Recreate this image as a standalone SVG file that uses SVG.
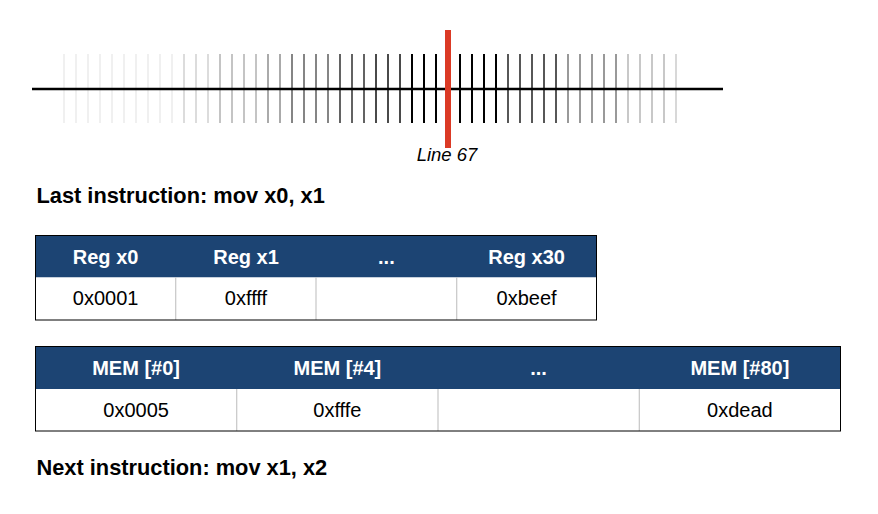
<svg xmlns="http://www.w3.org/2000/svg" width="878" height="514" viewBox="0 0 878 514">
<style>
.t{font-family:"Liberation Sans",Arial,sans-serif}
.title{font-size:21.8px;font-weight:bold;fill:#000}
.hd{font-size:20px;font-weight:bold;fill:#fff;text-anchor:middle}
.cell{font-size:20px;fill:#000;text-anchor:middle}
.hfill{fill:#1c4473}
.frame{fill:none;stroke:#000;stroke-width:1}
.div{stroke:#bbbbbb;stroke-width:1}
.tk{stroke-width:2}
</style>
<rect width="878" height="514" fill="#fff"/>
<g id="timeline">
<g id="ticks">
<g stroke="#f0f0f0" class="tk">
<line x1="64" y1="54" x2="64" y2="123"/><line x1="76" y1="54" x2="76" y2="123"/><line x1="88" y1="54" x2="88" y2="123"/><line x1="100" y1="54" x2="100" y2="123"/><line x1="112" y1="54" x2="112" y2="123"/><line x1="124" y1="54" x2="124" y2="123"/><line x1="136" y1="54" x2="136" y2="123"/><line x1="148" y1="54" x2="148" y2="123"/><line x1="160" y1="54" x2="160" y2="123"/><line x1="172" y1="54" x2="172" y2="123"/>
</g>
<g stroke="#dcdcdc" class="tk">
<line x1="184" y1="54" x2="184" y2="123"/><line x1="196" y1="54" x2="196" y2="123"/><line x1="208" y1="54" x2="208" y2="123"/>
</g>
<g stroke="#c4c4c4" class="tk">
<line x1="220" y1="54" x2="220" y2="123"/><line x1="232" y1="54" x2="232" y2="123"/><line x1="244" y1="54" x2="244" y2="123"/><line x1="256" y1="54" x2="256" y2="123"/>
</g>
<g stroke="#aaaaaa" class="tk">
<line x1="268" y1="54" x2="268" y2="123"/><line x1="280" y1="54" x2="280" y2="123"/>
</g>
<g stroke="#858585" class="tk">
<line x1="292" y1="54" x2="292" y2="123"/><line x1="304" y1="54" x2="304" y2="123"/><line x1="316" y1="54" x2="316" y2="123"/><line x1="328" y1="54" x2="328" y2="123"/>
</g>
<g stroke="#636363" class="tk">
<line x1="340" y1="54" x2="340" y2="123"/><line x1="352" y1="54" x2="352" y2="123"/><line x1="364" y1="54" x2="364" y2="123"/>
</g>
<g stroke="#4a4a4a" class="tk">
<line x1="376" y1="54" x2="376" y2="123"/><line x1="388" y1="54" x2="388" y2="123"/><line x1="400" y1="54" x2="400" y2="123"/>
</g>
<g stroke="#000000" class="tk">
<line x1="412" y1="54" x2="412" y2="123"/><line x1="424" y1="54" x2="424" y2="123"/><line x1="436" y1="54" x2="436" y2="123"/>
<line x1="460" y1="54" x2="460" y2="123"/><line x1="472" y1="54" x2="472" y2="123"/><line x1="484" y1="54" x2="484" y2="123"/><line x1="496" y1="54" x2="496" y2="123"/>
</g>
<g stroke="#575757" class="tk">
<line x1="508" y1="54" x2="508" y2="123"/><line x1="520" y1="54" x2="520" y2="123"/><line x1="532" y1="54" x2="532" y2="123"/><line x1="544" y1="54" x2="544" y2="123"/><line x1="556" y1="54" x2="556" y2="123"/>
</g>
<g stroke="#999999" class="tk">
<line x1="568" y1="54" x2="568" y2="123"/><line x1="580" y1="54" x2="580" y2="123"/><line x1="592" y1="54" x2="592" y2="123"/><line x1="604" y1="54" x2="604" y2="123"/><line x1="616" y1="54" x2="616" y2="123"/>
</g>
<g stroke="#c8c8c8" class="tk">
<line x1="628" y1="54" x2="628" y2="123"/><line x1="640" y1="54" x2="640" y2="123"/><line x1="652" y1="54" x2="652" y2="123"/><line x1="664" y1="54" x2="664" y2="123"/>
</g>
<g stroke="#d8d8d8" class="tk">
<line x1="676" y1="54" x2="676" y2="123"/>
</g>
</g>
<line x1="32" y1="89" x2="723" y2="89" stroke="#000" stroke-width="2.5"/>
<rect id="cursor" x="445" y="30" width="6" height="118" fill="#db3a25"/>
<text class="t" x="447" y="160.7" font-size="18.5" font-style="italic" text-anchor="middle" fill="#000">Line 67</text>
</g>
<g id="last-instruction">
<text class="t title" x="36.5" y="203.3">Last instruction: mov x0, x1</text>
</g>
<g id="registers">
<rect class="hfill" x="35.5" y="235.5" width="561" height="42"/>
<rect x="35.5" y="277.5" width="561" height="42.5" fill="#fff"/>
<line class="div" x1="175.75" y1="277.5" x2="175.75" y2="320"/>
<line class="div" x1="316" y1="277.5" x2="316" y2="320"/>
<line class="div" x1="456.75" y1="277.5" x2="456.75" y2="320"/>
<rect class="frame" x="35.5" y="235.5" width="561" height="84.5"/>
<text class="t hd" x="105.6" y="264.3">Reg x0</text>
<text class="t hd" x="246" y="264.3">Reg x1</text>
<text class="t hd" x="386.4" y="264.3">...</text>
<text class="t hd" x="526.6" y="264.3">Reg x30</text>
<text class="t cell" x="105.6" y="305.3">0x0001</text>
<text class="t cell" x="246" y="305.3">0xffff</text>
<text class="t cell" x="526.6" y="305.3">0xbeef</text>
</g>
<g id="memory">
<rect class="hfill" x="35.5" y="346.5" width="805" height="42.5"/>
<rect x="35.5" y="389" width="805" height="42" fill="#fff"/>
<line class="div" x1="236.75" y1="389" x2="236.75" y2="431"/>
<line class="div" x1="438" y1="389" x2="438" y2="431"/>
<line class="div" x1="639.25" y1="389" x2="639.25" y2="431"/>
<rect class="frame" x="35.5" y="346.5" width="805" height="84.5"/>
<text class="t hd" x="136.1" y="375.3">MEM [#0]</text>
<text class="t hd" x="337.4" y="375.3">MEM [#4]</text>
<text class="t hd" x="538.6" y="375.3">...</text>
<text class="t hd" x="739.9" y="375.3">MEM [#80]</text>
<text class="t cell" x="136.1" y="417">0x0005</text>
<text class="t cell" x="337.4" y="417">0xfffe</text>
<text class="t cell" x="739.9" y="417">0xdead</text>
</g>
<g id="next-instruction">
<text class="t title" x="36.5" y="475.3">Next instruction: mov x1, x2</text>
</g>
</svg>
